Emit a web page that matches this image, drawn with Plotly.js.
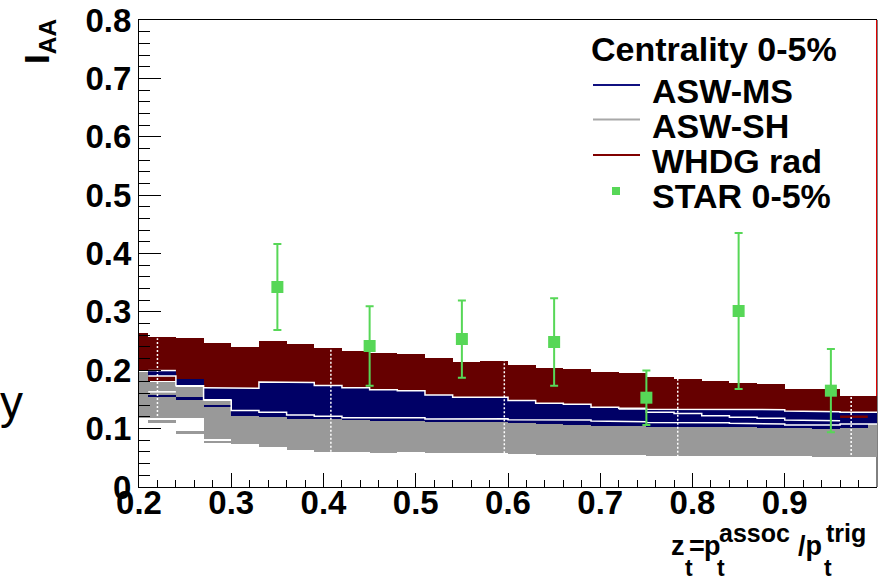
<!DOCTYPE html>
<html>
<head>
<meta charset="utf-8">
<script src="https://cdn.plot.ly/plotly-3.0.1.min.js"></script>
<style>
  html, body { margin: 0; padding: 0; background: #ffffff; }
  #chart { width: 884px; height: 582px; }
</style>
</head>
<body>
<div id="chart"></div>
<script>
// Bin edges in z_t of the model histograms (28 bins)
const binEdges = [0.20, 0.21, 0.24, 0.27, 0.30, 0.33, 0.36, 0.39, 0.42, 0.45, 0.48, 0.51, 0.54, 0.57,
                  0.60, 0.63, 0.66, 0.69, 0.72, 0.75, 0.78, 0.81, 0.84, 0.87, 0.90, 0.93, 0.96, 0.99, 1.00];

// WHDG rad band (upper / lower edge per bin)
const whdgTop = [0.2643, 0.2564, 0.2547, 0.2462, 0.2393, 0.2501, 0.2450, 0.2376, 0.2335, 0.2290, 0.2285, 0.2205, 0.2147, 0.2164,
                 0.2085, 0.2033, 0.2025, 0.1965, 0.1947, 0.1880, 0.1845, 0.1816, 0.1787, 0.1760, 0.1680, 0.1680, 0.1560, 0.1560];
const whdgBot = [0.2004, 0.1810, 0.1855, 0.1690, 0.1690, 0.1800, 0.1790, 0.1740, 0.1700, 0.1667, 0.1650, 0.1576, 0.1536, 0.1536,
                 0.1480, 0.1433, 0.1416, 0.1365, 0.1350, 0.1330, 0.1330, 0.1330, 0.1325, 0.1325, 0.1300, 0.1290, 0.1280, 0.1280];
// WHDG lower curve where it shows inside the ASW-MS band
const whdgLowLine = [null, null, null, null, null, null, null, null, null, null, null, null, null, null,
                     null, null, null, null, null, null, null, null, null, null, null, null, 0.1204, null];
// WHDG histogram edge at z_t = 1
const whdgEdgeX = [1.0, 1.0];
const whdgEdgeY = [0.1560, 0.8];

// ASW-MS band
const msTop = [null, 0.1995, 0.1855, 0.1690, 0.1690, 0.1800, 0.1790, 0.1740, 0.1700, 0.1667, 0.1650, 0.1576, 0.1536, 0.1536,
               0.1480, 0.1433, 0.1416, 0.1365, 0.1350, 0.1330, 0.1330, 0.1330, 0.1325, 0.1325, 0.1300, 0.1290, 0.1280, 0.1280];
const msBot = [null, 0.1900, 0.1747, 0.1510, 0.1220, 0.1204, 0.1165, 0.1160, 0.1148, 0.1136, 0.1136, 0.1120, 0.1108, 0.1108,
               0.1090, 0.1080, 0.1066, 0.1050, 0.1045, 0.1030, 0.1030, 0.1020, 0.1020, 0.1005, 0.1005, 0.0988, 0.1005, 0.1080];
const msStripTop = [null, 0.1580, 0.1537, 0.1400, null, null, null, null, null, null, null, null, null, null,
                    null, null, null, null, null, null, null, null, null, null, null, null, null, null];
const msStripBot = [null, 0.1540, 0.1490, 0.1365, null, null, null, null, null, null, null, null, null, null,
                    null, null, null, null, null, null, null, null, null, null, null, null, null, null];
// ASW-MS curves drawn as white outlines
const msUpperLine = [null, 0.1995, null, 0.1700, 0.1690, 0.1800, 0.1790, 0.1740, 0.1700, 0.1667, 0.1650, 0.1576, 0.1536, 0.1536,
                     0.1480, 0.1433, 0.1416, 0.1365, 0.1350, 0.1330, 0.1330, 0.1330, 0.1325, 0.1325, 0.1300, 0.1290, 0.1280, 0.1280];
const msMidLine = [null, null, null, null, null, null, null, null, null, null, null, null, null, null,
                   null, null, null, null, 0.1335, 0.1280, 0.1260, 0.1220, 0.1194, 0.1177, 0.1148, 0.1136, null, null];
const msLowerLine = [null, 0.1900, 0.1735, 0.1490, 0.1310, 0.1280, 0.1233, 0.1210, 0.1187, 0.1187, 0.1187, 0.1165, 0.1160, 0.1170,
                     0.1153, 0.1148, 0.1148, 0.1130, 0.1119, 0.1107, 0.1107, 0.1100, 0.1090, 0.1080, 0.1060, 0.1060, 0.1080, 0.1080];

// ASW-SH band
const shTop = [0.1976, 0.1800, 0.1720, 0.1480, 0.1220, 0.1204, 0.1165, 0.1160, 0.1148, 0.1136, 0.1136, 0.1120, 0.1108, 0.1108,
               0.1090, 0.1080, 0.1066, 0.1050, 0.1045, 0.1030, 0.1030, 0.1020, 0.1020, 0.1005, 0.1005, 0.0988, 0.1005, 0.1080];
const shBot = [0.1180, 0.1180, 0.1180, 0.0830, 0.0730, 0.0680, 0.0630, 0.0605, 0.0600, 0.0588, 0.0594, 0.0577, 0.0577, 0.0577,
               0.0565, 0.0553, 0.0548, 0.0548, 0.0548, 0.0530, 0.0530, 0.0530, 0.0530, 0.0530, 0.0530, 0.0520, 0.0520, 0.0520];
const shStripTop = [null, 0.1140, 0.0960, 0.0790, null, null, null, null, null, null, null, null, null, null,
                    null, null, null, null, null, null, null, null, null, null, null, null, null, null];
const shStripBot = [null, 0.1090, 0.0910, 0.0750, null, null, null, null, null, null, null, null, null, null,
                    null, null, null, null, null, null, null, null, null, null, null, null, null, null];
const shLine = [null, 0.1630, null, null, null, null, null, null, null, null, null, null, null, null,
                null, null, null, null, null, null, null, null, null, null, null, null, null, null];

// Dotted uncertainty markers across the bands
const dotX  = [0.220, 0.408, 0.596, 0.784, 0.972];
const dotLo = [0.1148, 0.0605, 0.0577, 0.0520, 0.0548];
const dotHi = [0.2547, 0.2376, 0.2176, 0.1860, 0.1547];

// STAR 0-5% measurement
const starX   = [0.35, 0.45, 0.55, 0.65, 0.75, 0.85, 0.95];
const starY   = [0.3426, 0.2415, 0.2535, 0.2484, 0.1530, 0.3015, 0.1650];
const starErr = [0.0737, 0.0680, 0.0662, 0.0750, 0.0466, 0.1336, 0.0712];

// Axis ticks
const xTicks = [0.2, 0.3, 0.4, 0.5, 0.6, 0.7, 0.8, 0.9, 1.0];
const xTickText = ['0.2', '0.3', '0.4', '0.5', '0.6', '0.7', '0.8', '0.9', '1'];
const yTicks = [0, 0.1, 0.2, 0.3, 0.4, 0.5, 0.6, 0.7, 0.8];
const yTickText = ['0', '0.1', '0.2', '0.3', '0.4', '0.5', '0.6', '0.7', '0.8'];

const NAVY = '#000066', GREY = '#999999', DARKRED = '#660000', GREEN = '#57d757';
const FONT = 'Liberation Sans, Arial, Helvetica, sans-serif';

// Filled histogram band: one bar per bin from lower to upper edge
function band(top, bot, color) {
  const x = [], w = [], b = [], h = [];
  for (let i = 0; i < top.length; i++) {
    if (top[i] == null || bot[i] == null) continue;
    x.push((binEdges[i] + binEdges[i + 1]) / 2);
    w.push(binEdges[i + 1] - binEdges[i]);
    b.push(bot[i]);
    h.push(top[i] - bot[i]);
  }
  return { type: 'bar', x: x, y: h, base: b, width: w, opacity: 1,
           marker: { color: color, line: { width: 0 } },
           showlegend: false, hoverinfo: 'skip' };
}

// Histogram outline drawn as connected steps, broken where a bin is empty
function steps(vals, color, width) {
  const x = [], y = [];
  for (let i = 0; i < vals.length; i++) {
    if (vals[i] == null) {
      if (x.length && x[x.length - 1] !== null) { x.push(null); y.push(null); }
      continue;
    }
    x.push(binEdges[i], binEdges[i + 1]);
    y.push(vals[i], vals[i]);
  }
  return { type: 'scatter', mode: 'lines', x: x, y: y, connectgaps: false,
           line: { color: color, width: width }, showlegend: false, hoverinfo: 'skip' };
}

const dotXs = [], dotYs = [];
dotX.forEach((d, i) => { dotXs.push(d, d, null); dotYs.push(dotLo[i], dotHi[i], null); });

const traces = [
  band(whdgTop, whdgBot, DARKRED),
  band(msTop, msBot, NAVY),
  band(shTop, shBot, GREY),
  band(msStripTop, msStripBot, NAVY),
  band(shStripTop, shStripBot, GREY),
  steps(msUpperLine, '#ffffff', 1.5),
  steps(msMidLine, '#ffffff', 1.5),
  steps(msLowerLine, '#ffffff', 1.5),
  steps(shLine, '#ffffff', 1.5),
  steps(whdgLowLine, '#7a0000', 2.5),
  { type: 'scatter', mode: 'lines', x: dotXs, y: dotYs, connectgaps: false,
    line: { color: '#ffffff', width: 1.5, dash: '2px,2px' }, showlegend: false, hoverinfo: 'skip' },
  { type: 'scatter', mode: 'lines', x: whdgEdgeX, y: whdgEdgeY, cliponaxis: false,
    line: { color: '#e00000', width: 2 }, showlegend: false, hoverinfo: 'skip' },
  { type: 'scatter', mode: 'markers', x: starX, y: starY, name: 'STAR 0-5%',
    marker: { symbol: 'square', size: 12, color: GREEN },
    error_y: { type: 'data', array: starErr, visible: true, color: GREEN, thickness: 2, width: 4 },
    showlegend: false, hoverinfo: 'skip' }
];

// pixel helpers for text placed around the frame
const L = 139, R = 877, T = 20, B = 487;
const px = v => (v - L) / (R - L);
const py = v => (B - v) / (B - T);
const bold = (size) => ({ family: FONT, size: size, color: '#000000', weight: 'bold' });

function label(text, x, y, size, xanchor, extra) {
  return Object.assign({ text: text, xref: 'paper', yref: 'paper', x: px(x), y: py(y),
    xanchor: xanchor || 'left', yanchor: 'middle', showarrow: false, font: bold(size) }, extra || {});
}

const annotations = [
  // y axis title
  label('I<sub>AA</sub>', 39, 42, 35, 'center', { textangle: -90 }),
  // x axis title, built from pieces so the sub/superscripts stack
  label('z', 669, 546, 27),
  label('t', 683, 568, 23),
  label('=', 687, 546, 27),
  label('p', 702, 546, 27),
  label('t', 715, 568, 23),
  label('assoc', 717, 533, 25),
  label('/p', 796, 546, 27),
  label('t', 822, 568, 23),
  label('trig', 824, 533, 25),
  // legend
  label('Centrality 0-5%', 589, 49, 34),
  label('ASW-MS', 650, 91, 34),
  label('ASW-SH', 650, 126, 34),
  label('WHDG rad', 650, 161, 34),
  label('STAR 0-5%', 650, 196, 34),
  // stray glyph at the left edge
  { text: 'y', xref: 'paper', yref: 'paper', x: px(-2), y: py(402), xanchor: 'left', yanchor: 'middle',
    showarrow: false, font: { family: FONT, size: 46, color: '#000000' } }
];

const shapes = [
  // right frame line
  { type: 'line', xref: 'paper', yref: 'paper', x0: 1, x1: 1, y0: 0, y1: 1,
    line: { color: '#000000', width: 1 }, layer: 'below' },
  // legend keys
  { type: 'line', xref: 'paper', yref: 'paper', x0: px(593), x1: px(640), y0: py(85), y1: py(85),
    line: { color: '#101080', width: 2 } },
  { type: 'line', xref: 'paper', yref: 'paper', x0: px(593), x1: px(640), y0: py(119.5), y1: py(119.5),
    line: { color: '#a8a8a8', width: 2 } },
  { type: 'line', xref: 'paper', yref: 'paper', x0: px(593), x1: px(640), y0: py(155), y1: py(155),
    line: { color: '#800000', width: 2 } },
  { type: 'rect', xref: 'paper', yref: 'paper', x0: px(612), x1: px(620), y0: py(195), y1: py(187),
    fillcolor: GREEN, line: { width: 0 } }
];

const axisCommon = {
  showgrid: false, zeroline: false, showline: true, linecolor: '#000000', linewidth: 1,
  ticks: 'inside', tickcolor: '#000000', tickwidth: 1, tickfont: bold(33), layer: 'above traces'
};

const layout = {
  width: 884, height: 582,
  margin: { l: L, r: 884 - R, t: T, b: 582 - B, pad: 0 },
  paper_bgcolor: '#ffffff', plot_bgcolor: '#ffffff',
  barmode: 'overlay', bargap: 0,
  showlegend: false,
  xaxis: Object.assign({}, axisCommon, {
    range: [0.2, 1.0], mirror: true, tickmode: 'array', tickvals: xTicks, ticktext: xTickText, ticklen: 14,
    ticklabelstandoff: -14,
    minor: { ticks: 'inside', ticklen: 7, tickcolor: '#000000', dtick: 0.02, tick0: 0, showgrid: false }
  }),
  yaxis: Object.assign({}, axisCommon, {
    range: [0, 0.8], mirror: false, tickmode: 'array', tickvals: yTicks, ticktext: yTickText, ticklen: 22,
    minor: { ticks: 'inside', ticklen: 11, tickcolor: '#000000', dtick: 0.02, tick0: 0, showgrid: false }
  }),
  annotations: annotations,
  shapes: shapes
};

Plotly.newPlot('chart', traces, layout, { displayModeBar: false, staticPlot: true });
</script>
</body>
</html>
